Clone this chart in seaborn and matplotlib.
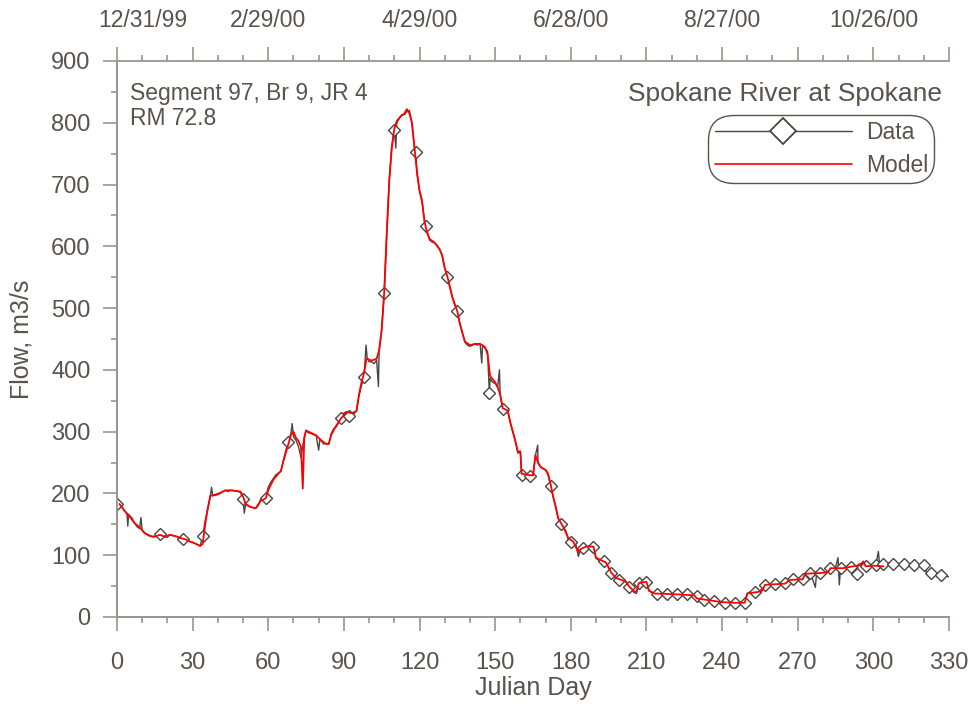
import numpy as np
import pandas as pd
import matplotlib
matplotlib.use("Agg")
import matplotlib.pyplot as plt
import matplotlib.transforms as mtrans
from matplotlib.lines import Line2D
import seaborn as sns

# ---------------- data ----------------
data_day = [0, 1, 2, 3, 4, 4.3, 4.6, 6, 7, 8, 9, 9.5, 10, 11, 12, 13, 14, 15, 16, 17, 18, 19, 20,
            21, 22, 23, 24, 25, 26, 27, 28, 29, 30, 31, 32, 33, 34, 35, 36, 37, 37.5, 38, 39, 40,
            41, 42, 43, 44, 45, 46, 47, 48, 49, 50, 50.5, 51, 52, 53, 54, 55, 56, 57, 58, 59, 60,
            61, 62, 63, 64, 65, 66, 67, 68, 69, 69.5, 70, 71, 72, 73, 74, 75, 76, 77, 78, 79, 80,
            80.5, 81, 82, 83, 84, 85, 86, 87, 88, 89, 90, 91, 92, 93, 94, 95, 96, 97, 98, 98.8,
            99.2, 100, 101, 102, 103, 103.7, 104, 105, 106, 107, 108, 109, 110, 110.6, 111, 112,
            113, 114, 115, 116, 117, 118, 118.5, 119, 120, 121, 122, 122.6, 123, 124, 125, 126,
            127, 128, 129, 130, 131, 132, 133, 134, 135, 136, 137, 138, 139, 140, 141, 142, 143,
            144, 144.7, 145, 146, 147, 147.7, 148, 149, 150, 151, 151.7, 152, 153, 154, 155, 156,
            157, 158, 159, 160, 160.5, 161, 162, 163, 164, 165, 166, 166.9, 167, 168, 169, 170,
            171, 172, 173, 174, 175, 176, 177, 178, 179, 180, 181, 182, 183, 184, 185, 186, 187,
            188, 189, 190, 191, 192, 193, 194, 195, 196, 197, 198, 199, 200, 201, 202, 203, 204,
            205, 206, 207, 208, 209, 210, 211, 212, 214, 216, 218, 220, 222, 224, 226, 228, 230,
            231, 233, 235, 237, 239, 241, 243, 245, 247, 249, 250, 251, 253, 255, 257, 259, 261,
            263, 265, 267, 268, 270, 272, 273, 275, 277, 277.5, 279, 281, 283, 285, 286, 286.5,
            287, 289, 291, 293, 293.5, 294, 296, 297, 299, 301, 302, 302.5, 304, 306, 308, 310,
            312, 314, 316, 318, 320, 321, 323, 325, 327, 329, 330]
data_flow = [183, 182, 178, 172, 166, 147, 166, 160, 152, 146, 143, 161, 140, 135, 134, 132, 130,
             130, 131, 134, 132, 130, 129, 133, 132, 131, 130, 128, 127, 126, 124, 122, 121, 119,
             117, 115, 131, 156, 175, 194, 210, 196, 197, 198, 200, 203, 205, 203, 205, 205, 204,
             203, 202, 191, 168, 182, 180, 178, 177, 176, 180, 191, 192, 193, 210, 218, 224, 230,
             233, 236, 253, 270, 283, 297, 313, 292, 286, 276, 258, 285, 302, 298, 297, 295, 294,
             270, 288, 285, 280, 281, 280, 297, 305, 308, 315, 322, 330, 332, 326, 330, 329, 334,
             358, 375, 389, 440, 421, 413, 413, 410, 416, 373, 432, 465, 525, 621, 707, 761, 788,
             759, 800, 807, 813, 813, 818, 820, 799, 760, 752, 718, 690, 675, 640, 633, 625, 610,
             607, 605, 602, 595, 585, 565, 551, 535, 518, 505, 495, 475, 460, 445, 440, 438, 440,
             442, 440, 443, 411, 440, 435, 430, 363, 386, 380, 378, 372, 400, 360, 337, 335, 333,
             315, 300, 285, 265, 268, 230, 229, 230, 229, 228, 227, 262, 278, 250, 243, 240, 238,
             230, 212, 195, 180, 160, 150, 145, 140, 125, 122, 120, 118, 98, 110, 112, 114, 114,
             113, 114, 95, 92, 91, 90, 87, 80, 71, 66, 62, 60, 60, 59, 56, 48, 45, 40, 38, 55, 57,
             56, 57, 42, 40, 38, 37, 38, 37, 37, 36, 37, 36, 34, 29, 28, 28, 26, 24, 23, 23, 22,
             23, 22, 38, 40, 41, 42, 52, 53, 53, 54, 55, 58, 61, 60, 61, 70, 72, 48, 71, 72, 71,
             79, 80, 96, 52, 79, 80, 81, 80, 70, 85, 88, 82, 83, 84, 106, 84, 86, 87, 86, 85, 86,
             85, 84, 84, 84, 73, 72, 70, 68, 66, 65]

marker_days = [0, 17, 26, 34, 50, 59, 68, 89, 92, 98, 106, 110, 118.5, 122.6, 131, 135, 147.7,
               153, 160.5, 164, 172, 176, 180, 185, 189, 193, 196, 199, 203, 207, 210, 214, 218,
               222, 226, 230, 233, 237, 241, 245, 249, 253, 257, 261, 265, 268, 272, 275, 279,
               283, 287, 291, 293.5, 297, 301, 304, 308, 312, 316, 320, 323, 327]

model_day = [1, 3, 5, 7, 9, 11, 13, 15, 17, 19, 21, 23, 25, 27, 29, 31, 33, 34, 35, 36, 37, 39,
             41, 43, 45, 47, 49, 50, 51, 53, 55, 57, 59, 60, 62, 64, 65, 66, 68, 69, 70, 71, 72,
             73, 73.7, 74.3, 75, 77, 79, 81, 83, 84, 85, 87, 89, 91, 93, 95, 96, 97, 98, 99, 101,
             103, 104, 105, 106, 107, 108, 109, 110, 111, 112, 113, 114, 115, 116, 117, 118, 119,
             120, 121, 122, 123, 124, 126, 128, 129, 130, 131, 133, 135, 136, 137, 138, 140, 142,
             144, 146, 147, 148, 150, 151, 152, 153, 155, 156, 157, 158, 159, 160, 160.5, 163,
             165, 166, 167, 168, 170, 171, 172, 173, 174, 175, 177, 179, 181, 183, 184, 186, 189,
             190, 192, 194, 196, 198, 200, 202, 203, 205, 206, 207, 210, 211, 213, 220, 225, 229,
             230, 235, 240, 245, 249, 250, 255, 256, 257, 265, 267, 272, 273, 278, 282, 283, 288,
             292, 295, 296, 297, 300, 304]
model_flow = [183, 172, 163, 152, 145, 136, 131, 130, 133, 130, 133, 131, 128, 126, 122, 119,
              115, 118, 150, 175, 196, 198, 201, 205, 205, 204, 203, 195, 183, 178, 176, 188, 192,
              205, 222, 232, 236, 252, 280, 295, 300, 290, 285, 275, 208, 290, 302, 298, 294, 286,
              280, 280, 295, 310, 322, 332, 330, 333, 360, 380, 395, 418, 415, 418, 432, 465, 525,
              620, 705, 760, 790, 803, 808, 812, 815, 822, 815, 800, 760, 720, 690, 672, 640, 622,
              612, 606, 595, 585, 565, 552, 518, 495, 475, 460, 446, 440, 442, 442, 437, 425, 390,
              380, 372, 360, 338, 334, 315, 300, 285, 268, 268, 232, 230, 229, 262, 250, 243, 238,
              232, 215, 195, 178, 160, 146, 128, 122, 105, 110, 114, 114, 96, 92, 88, 72, 63, 60,
              57, 50, 42, 40, 55, 57, 43, 38, 37, 36, 35, 30, 27, 24, 23, 23, 38, 41, 43, 52, 54,
              60, 61, 70, 71, 72, 79, 79, 82, 84, 90, 82, 83, 82]

x_major = [0, 30, 60, 90, 120, 150, 180, 210, 240, 270, 300, 330]
top_labels = ['12/31/99', '', '2/29/00', '', '4/29/00', '', '6/28/00', '', '8/27/00', '',
              '10/26/00', '']
y_major = [0, 100, 200, 300, 400, 500, 600, 700, 800, 900]

# ---------------- style ----------------
TXT = '#5a524b'
AX = '#9c958f'
DATA_C = '#4a4541'

sns.set_style("white")
plt.rcParams.update({
    'font.family': ['Liberation Sans', 'DejaVu Sans'],
    'axes.edgecolor': AX, 'axes.linewidth': 1.3,
})

fig = plt.figure(figsize=(9.73, 7.04), dpi=100)
ax = fig.add_axes([0.1202, 0.1236, 0.8551, 0.7898])

df_data = pd.DataFrame({'day': data_day, 'flow': data_flow})
df_model = pd.DataFrame({'day': model_day, 'flow': model_flow})
mark_idx = sorted({int(np.argmin(np.abs(np.array(data_day) - d))) for d in marker_days})

sns.lineplot(data=df_data, x='day', y='flow', ax=ax, color=DATA_C, lw=1.0,
             estimator=None, sort=False, marker='D', markersize=6, markevery=mark_idx,
             markerfacecolor='white', markeredgecolor=DATA_C, markeredgewidth=1.0)
sns.lineplot(data=df_model, x='day', y='flow', ax=ax, color='#ff0000', lw=1.3,
             estimator=None, sort=False)

ax.set_xlim(0, 330)
ax.set_ylim(0, 900)
ax.set_xlabel('')
ax.set_ylabel('')
ax.tick_params(which='both', bottom=False, left=False, top=False, right=False,
               labelbottom=False, labelleft=False)
for s in ['right', 'top']:
    ax.spines[s].set_visible(False)


def style_axis(sec, which_axis, labels, lsize, pad):
    """Apply tick layout to a secondary axis."""
    axis = sec.xaxis if which_axis == 'x' else sec.yaxis
    axis.set_tick_params(which='major', direction='out', length=10, width=1.2, color=AX,
                         labelsize=lsize, labelcolor=TXT, pad=pad)
    axis.set_tick_params(which='minor', direction='out', length=4.5, width=1.2, color=AX)
    for sp in sec.spines.values():
        sp.set_color(AX)
        sp.set_linewidth(1.3)


# bottom axis (Julian Day)
bot = ax.secondary_xaxis('bottom')
bot.set_xticks(x_major)
bot.set_xticks(np.arange(0, 331, 10), minor=True)
style_axis(bot, 'x', None, 17, 15.5)
bot.set_xlabel('Julian Day', fontsize=18, color=TXT, labelpad=1.5)

# left axis (Flow)
lef = ax.secondary_yaxis('left')
lef.set_yticks(y_major)
lef.set_yticks(np.arange(0, 901, 50), minor=True)
style_axis(lef, 'y', None, 17, 9)
lef.set_ylabel('Flow, m3/s', fontsize=18, color=TXT, labelpad=13)

# top axis (dates)
top = ax.secondary_xaxis('top')
top.set_xticks(x_major, labels=top_labels)
top.set_xticks(np.arange(0, 331, 10), minor=True)
style_axis(top, 'x', None, 16.5, 11)
lbl0 = top.get_xticklabels()[0]
lbl0.set_transform(lbl0.get_transform() + mtrans.ScaledTranslation(0.26, 0, fig.dpi_scale_trans))

ax.text(0.016, 0.962, 'Segment 97, Br 9, JR 4\nRM 72.8', transform=ax.transAxes,
        ha='left', va='top', fontsize=16.5, color=TXT, linespacing=1.1)
ax.text(0.992, 0.962, 'Spokane River at Spokane', transform=ax.transAxes,
        ha='right', va='top', fontsize=19, color=TXT)

handles = [Line2D([], [], color=DATA_C, lw=1.0, marker='D', markersize=13,
                  markerfacecolor='white', markeredgecolor=DATA_C, markeredgewidth=1.3),
           Line2D([], [], color='#ff0000', lw=1.2)]
leg = ax.legend(handles, ['Data', 'Model'], loc='upper right', bbox_to_anchor=(0.981, 0.901),
                borderaxespad=0, fontsize=16.5, handlelength=6.0, handletextpad=0.6,
                labelspacing=0.42, borderpad=0.22, frameon=True, fancybox=True,
                labelcolor=TXT)
fr = leg.get_frame()
fr.set_edgecolor(TXT)
fr.set_linewidth(1.0)
fr.set_facecolor('white')
fr.set_alpha(1)
fr.set_boxstyle('round,pad=0.05,rounding_size=1.1')

fig.savefig('out.png', dpi=100)
